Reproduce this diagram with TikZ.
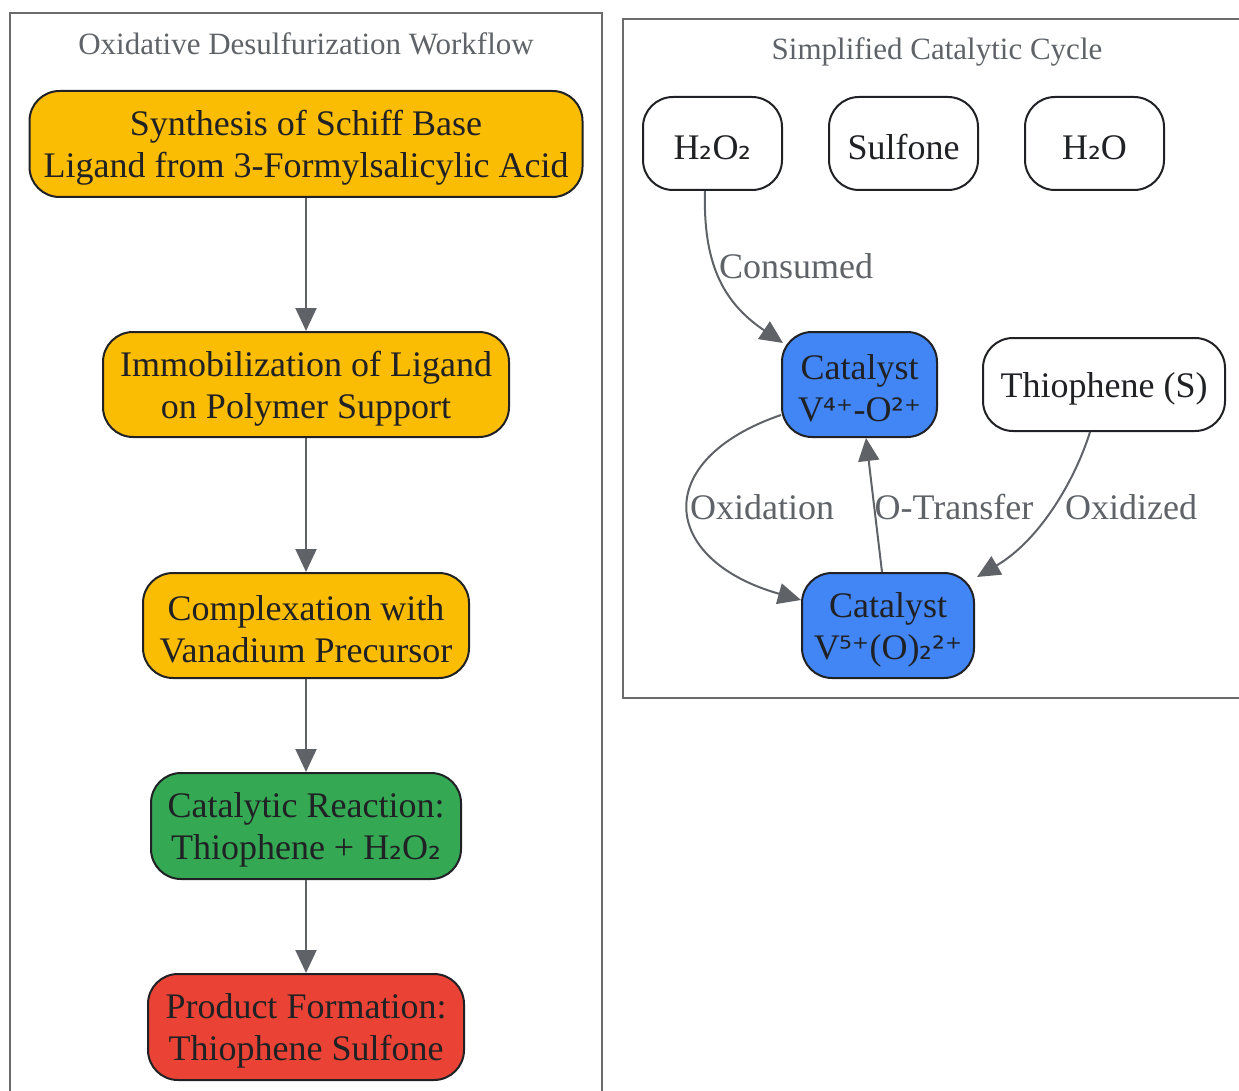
\documentclass[tikz,border=0pt]{standalone}
\usepackage{fontspec}
\setmainfont{Liberation Serif}
\newfontfamily\symfont{DejaVu Sans}
\usetikzlibrary{arrows.meta,calc}
\definecolor{ink}{HTML}{202124}
\definecolor{edgegray}{HTML}{5F6368}
\definecolor{clustergray}{HTML}{6B6B6B}
\definecolor{gyellow}{HTML}{FBBC04}
\definecolor{ggreen}{HTML}{34A853}
\definecolor{gred}{HTML}{EA4335}
\definecolor{gblue}{HTML}{4285F4}
\newcommand{\subc}[1]{{\symfont\fontsize{32}{32}\selectfont #1}}
\newcommand{\supc}[1]{{\symfont\fontsize{32}{32}\selectfont #1}}
\tikzset{
  box/.style={draw=ink, line width=2pt, rounded corners=30pt, inner sep=0pt},
  boxtext/.style={align=center, text=ink, font=\fontsize{36}{42}\selectfont,
    inner sep=0pt, yshift=-4pt},
  cluster/.style={draw=clustergray, line width=2pt},
  ctitle/.style={text=edgegray, font=\fontsize{31}{34}\selectfont},
  flow/.style={draw=edgegray, line width=2pt, -{Triangle[length=23pt,width=21pt]}},
  elabel/.style={text=edgegray, font=\fontsize{36}{41}\selectfont, inner sep=0pt},
}
\begin{document}
\begin{tikzpicture}[x=1pt,y=-1pt]
\useasboundingbox (0,0) rectangle (1239,1091);
\begin{scope}
\clip (0,0) rectangle (1239,1091);
\draw[cluster] (10,13) rectangle (602,1110);
\draw[cluster] (623,19) rectangle (1260,698);
\end{scope}
\node[ctitle] (t1) at (306,43.5) {Oxidative Desulfurization Workflow};
\node[ctitle] (t2) at (937,51.5) {Simplified Catalytic Cycle};

\node[box, fill=gyellow, minimum width=553pt, minimum height=106pt,
  label={[boxtext]center:Synthesis of Schiff Base\\Ligand from 3-Formylsalicylic Acid}] (s1) at (306,144) {};
\node[box, fill=gyellow, minimum width=406pt, minimum height=105pt,
  label={[boxtext]center:Immobilization of Ligand\\on Polymer Support}] (s2) at (306,384.5) {};
\node[box, fill=gyellow, minimum width=326pt, minimum height=105pt,
  label={[boxtext]center:Complexation with\\Vanadium Precursor}] (s3) at (306,625.5) {};
\node[box, fill=ggreen, minimum width=310pt, minimum height=106pt,
  label={[boxtext]center:Catalytic Reaction:\\Thiophene + H\subc{₂}O\subc{₂}}] (s4) at (306,826) {};
\node[box, fill=gred, minimum width=316pt, minimum height=106pt,
  label={[boxtext]center:Product Formation:\\Thiophene Sulfone}] (s5) at (306,1027) {};

\draw[flow] (s1) -- (s2);
\draw[flow] (s2) -- (s3);
\draw[flow] (s3) -- (s4);
\draw[flow] (s4) -- (s5);

\node[box, fill=white, minimum width=139pt, minimum height=93pt,
  label={[boxtext]center:H\subc{₂}O\subc{₂}}] (h2o2) at (712.5,143.5) {};
\node[box, fill=white, minimum width=149pt, minimum height=93pt,
  label={[boxtext]center:Sulfone}] (sulf) at (903.5,143.5) {};
\node[box, fill=white, minimum width=139pt, minimum height=93pt,
  label={[boxtext]center:H\subc{₂}O}] (h2o) at (1094.5,143.5) {};
\node[box, fill=gblue, minimum width=155pt, minimum height=105pt,
  label={[boxtext]center:Catalyst\\V\supc{⁴⁺}-O\supc{²⁺}}] (v4) at (859.5,384.5) {};
\node[box, fill=white, minimum width=242pt, minimum height=93pt,
  label={[boxtext]center:Thiophene (S)}] (thio) at (1104,384.5) {};
\node[box, fill=gblue, minimum width=172pt, minimum height=105pt,
  label={[boxtext]center:Catalyst\\V\supc{⁵⁺}(O)\subc{₂}\supc{²⁺}}] (v5) at (888,625.5) {};

\draw[flow] ($(h2o2.south)+(-7.5,0)$) .. controls (703,262) and (722,302) .. ($(v4.north west)+(2,12)$);
\node[elabel, anchor=west] (lc) at (719,266) {Consumed};

\draw[flow] ($(v4.west)+(0,30.5)$) .. controls (650,460) and (660,560) .. ($(v5.north west)+(0,28)$);
\node[elabel] (lo) at (762,507) {Oxidation};

\draw[flow] ($(v5.north)+(-6,0)$) -- ($(v4.south)+(6.5,0)$);
\node[elabel] (lt) at (954,507) {O-Transfer};

\draw[flow] ($(thio.south)+(-14,0)$) .. controls (1075,480) and (1040,540) .. ($(v5.north east)+(2,5)$);
\node[elabel] (lx) at (1131,507) {Oxidized};
\end{tikzpicture}
\end{document}
